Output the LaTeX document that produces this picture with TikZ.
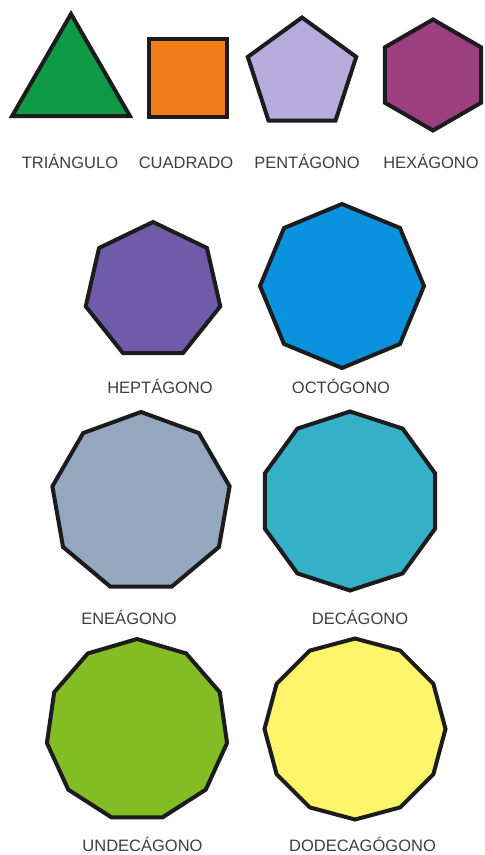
\documentclass[tikz,border=0pt]{standalone}
\usepackage{fontspec}
\setmainfont{Liberation Sans}
\usepackage{xcolor}
\usepackage{tikz}
\usetikzlibrary{shapes.geometric}
\definecolor{EdgeDark}{HTML}{1C1B1D}
\definecolor{LabelGray}{HTML}{3E3E3E}
\definecolor{TriGreen}{HTML}{0F9A45}
\definecolor{SqOrange}{HTML}{F07F1A}
\definecolor{PentLilac}{HTML}{B6ACDB}
\definecolor{HexPlum}{HTML}{9D3E80}
\definecolor{HeptViolet}{HTML}{6F5BA8}
\definecolor{OctBlue}{HTML}{0B92DE}
\definecolor{EneaSlate}{HTML}{93A8BE}
\definecolor{DecaTeal}{HTML}{35B0C6}
\definecolor{UndecaLime}{HTML}{84BD23}
\definecolor{DodecaYellow}{HTML}{FFF56B}
\tikzset{
  poly/.style={draw=EdgeDark,line width=4pt,regular polygon,inner sep=0pt,outer sep=0pt},
  sqbox/.style={draw=EdgeDark,line width=4pt,rectangle,inner sep=0pt,outer sep=0pt},
  shapelabel/.style={font=\fontsize{16.5}{18}\selectfont,text=LabelGray,anchor=base,inner sep=0pt}
}

\begin{document}
\begin{tikzpicture}[x=1pt,y=-1pt]
  \fill[white] (0,0) rectangle (485,855);
  \useasboundingbox (0,0) rectangle (485,855);

  % first row
  \node[poly,regular polygon sides=3,fill=TriGreen,minimum size=136pt] (tri) at (71,82) {};
  \node[sqbox,fill=SqOrange,minimum width=78pt,minimum height=78pt] (sq) at (188,78) {};
  \node[poly,regular polygon sides=5,fill=PentLilac,minimum size=114pt] (pent) at (302,74.5) {};
  \node[poly,regular polygon sides=6,shape border rotate=30,fill=HexPlum,minimum size=111pt] (hex) at (433,75) {};
  \node[shapelabel] (tri-l) at (70,168) {TRIÁNGULO};
  \node[shapelabel] (sq-l) at (186,168) {CUADRADO};
  \node[shapelabel] (pent-l) at (307,168) {PENTÁGONO};
  \node[shapelabel] (hex-l) at (431,168) {HEXÁGONO};

  % second row
  \node[poly,regular polygon sides=7,fill=HeptViolet,minimum size=138pt] (hept) at (153,291) {};
  \node[poly,regular polygon sides=8,shape border rotate=22.5,fill=OctBlue,minimum size=164pt] (oct) at (342,286) {};
  \node[shapelabel] (hept-l) at (160,393) {HEPTÁGONO};
  \node[shapelabel] (oct-l) at (341,393) {OCTÓGONO};

  % third row
  \node[poly,regular polygon sides=9,fill=EneaSlate,minimum size=180pt] (enea) at (141,502) {};
  \node[poly,regular polygon sides=10,shape border rotate=18,fill=DecaTeal,minimum size=179pt] (deca) at (350,501) {};
  \node[shapelabel] (enea-l) at (129,624) {ENEÁGONO};
  \node[shapelabel] (deca-l) at (360,624) {DECÁGONO};

  % fourth row
  \node[poly,regular polygon sides=11,fill=UndecaLime,minimum size=182pt] (undeca) at (137,730) {};
  \node[poly,regular polygon sides=12,shape border rotate=15,fill=DodecaYellow,minimum size=181pt] (dodeca) at (355,729) {};
  \node[shapelabel] (undeca-l) at (142.5,851) {UNDECÁGONO};
  \node[shapelabel] (dodeca-l) at (362.5,851) {DODECAGÓGONO};
\end{tikzpicture}
\end{document}
